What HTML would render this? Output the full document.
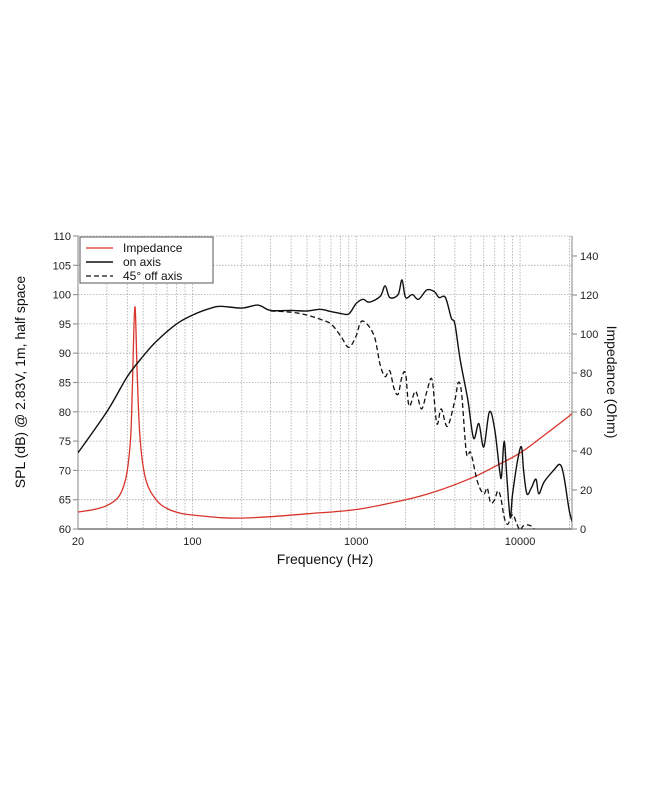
<!DOCTYPE html>
<html><head><meta charset="utf-8"><style>
body{margin:0;background:#fff;}
svg{display:block;font-family:"Liberation Sans",Arial,sans-serif;}
</style></head><body>
<svg id="s" width="650" height="794" xmlns="http://www.w3.org/2000/svg">
<g id="grid"></g>
<g id="axes" stroke="#999" stroke-width="1.2" fill="none">
<line x1="78" y1="236" x2="78" y2="529"/>
<line x1="572" y1="236" x2="572" y2="529"/>
<line x1="78" y1="529" x2="572" y2="529" stroke-width="2"/>
</g>
<g id="labels" font-size="11" fill="#222"></g>
<text x="325" y="564" font-size="14" text-anchor="middle" fill="#111">Frequency (Hz)</text>
<text transform="translate(25,382) rotate(-90)" font-size="14" text-anchor="middle" fill="#111">SPL (dB) @ 2.83V, 1m, half space</text>
<text transform="translate(607,382) rotate(90)" font-size="14" text-anchor="middle" fill="#111">Impedance (Ohm)</text>
<defs><clipPath id="c"><rect x="78" y="236" width="494" height="293"/></clipPath></defs>
<g clip-path="url(#c)" fill="none">
<path id="imp" stroke="#d9342b" stroke-width="1.3"/>
<path id="off" stroke="#111" stroke-width="1.3" stroke-dasharray="5,3"/>
<path id="on" stroke="#111" stroke-width="1.4"/>
</g>
<g>
<rect x="80" y="237" width="133" height="46" fill="#fff" stroke="#555" stroke-width="1"/>
<line x1="86" y1="248" x2="113" y2="248" stroke="#d9342b" stroke-width="1.3"/>
<line x1="86" y1="262" x2="113" y2="262" stroke="#111" stroke-width="1.4"/>
<line x1="86" y1="276" x2="113" y2="276" stroke="#111" stroke-width="1.3" stroke-dasharray="5,3"/>
<text x="123" y="252" font-size="12" fill="#111">Impedance</text>
<text x="123" y="266" font-size="12" fill="#111">on axis</text>
<text x="123" y="280" font-size="12" fill="#111">45° off axis</text>
</g>
</svg>
<script>
var NS="http://www.w3.org/2000/svg";
function X(f){return 78+(Math.log10(f)-Math.log10(20))*163.8;}
function Yd(d){return 529-(d-60)*5.86;}
function Yo(o){return 529-o*1.95;}
function el(p,t,a){var e=document.createElementNS(NS,t);for(var k in a)e.setAttribute(k,a[k]);document.getElementById(p).appendChild(e);return e;}
var freqs=[];
[10,100,1000,10000].forEach(function(d){for(var i=1;i<10;i++){var f=d*i;if(f>20&&f<=20000)freqs.push(f);}});
freqs.forEach(function(f){var x=X(f);if(x<571)el("grid","line",{x1:x,y1:236,x2:x,y2:529,stroke:"#aaa","stroke-width":0.8,"stroke-dasharray":"1.5,1.5"});});
for(var d=65;d<=110;d+=5){var y=Yd(d);el("grid","line",{x1:78,y1:y,x2:572,y2:y,stroke:"#aaa","stroke-width":0.8,"stroke-dasharray":"1.5,1.5"});}
for(var d=60;d<=110;d+=5){var y=Yd(d);el("axes","line",{x1:73,y1:y,x2:78,y2:y});var t=el("labels","text",{x:71,y:y+4,"text-anchor":"end"});t.textContent=d;}
for(var o=0;o<=140;o+=20){var y=Yo(o);el("axes","line",{x1:572,y1:y,x2:577,y2:y});var t=el("labels","text",{x:580,y:y+4});t.textContent=o;}
[[20,"20"],[100,"100"],[1000,"1000"],[10000,"10000"]].forEach(function(a){var t=el("labels","text",{x:X(a[0]),y:545,"text-anchor":"middle"});t.textContent=a[1];});
function path(pts,fy){var P=pts.map(function(p){return[X(p[0]),fy(p[1])];});var s="M"+P[0][0].toFixed(1)+","+P[0][1].toFixed(1);
for(var i=0;i<P.length-1;i++){var p0=P[i-1]||P[i],p1=P[i],p2=P[i+1],p3=P[i+2]||P[i+1];
s+="C"+(p1[0]+(p2[0]-p0[0])/6).toFixed(1)+","+(p1[1]+(p2[1]-p0[1])/6).toFixed(1)+" "+(p2[0]-(p3[0]-p1[0])/6).toFixed(1)+","+(p2[1]-(p3[1]-p1[1])/6).toFixed(1)+" "+p2[0].toFixed(1)+","+p2[1].toFixed(1);}return s;}
var on=[[20,73],[30,80],[40,86],[50,89.5],[60,92],[80,95],[100,96.5],[130,97.7],[150,98],[200,97.7],[250,98.2],[300,97.3],[400,97.3],[500,97.2],[600,97.5],[700,97.1],[800,96.8],[900,96.7],[1000,98.5],[1100,99.2],[1200,98.7],[1400,99.7],[1500,101.5],[1600,99.5],[1800,100],[1900,102.5],[2000,99.5],[2200,100],[2400,99.2],[2700,100.8],[3000,100.5],[3200,99.5],[3500,99.5],[3800,96],[4000,95],[4300,89],[4800,82],[5200,75.5],[5600,78],[6000,74],[6500,80],[7000,77],[7500,70],[7700,69],[8000,75],[8300,69],[8700,62],[9000,66],[9700,72],[10200,74],[10500,70],[11000,66],[11700,67],[12500,68.5],[13000,66],[14000,68],[16000,70],[17500,71],[18500,69],[20000,63],[21000,61]];
var off=[[300,97.2],[400,97],[500,96.5],[600,95.8],[700,95],[800,93],[900,91],[1000,93],[1050,95],[1100,95.5],[1200,94.5],[1300,92.5],[1400,88],[1500,86],[1600,87],[1700,84],[1800,83],[1900,86],[2000,86.5],[2100,81],[2300,83.5],[2500,80.5],[2700,83.5],[2900,85.5],[3100,78],[3300,80.5],[3600,77.5],[4000,82],[4200,85],[4400,83],[4700,73],[5000,73],[5500,68],[6000,66],[6300,67],[6600,64.5],[7000,65],[7300,66.5],[7600,65.5],[8000,62],[8400,60.8],[9000,62.5],[9500,61],[10000,59.8],[10400,60.5],[11000,60.7],[11700,60.5],[12500,59.5]];
var imp=[[20,8.7],[25,10],[30,12],[35,16],[38,22],[40,30],[42,48],[43,75],[44.5,114],[46,78],[48,45],[52,25],[60,15],[70,10.5],[85,8],[100,7.2],[150,5.8],[200,5.6],[300,6.3],[500,7.8],[1000,10],[2000,15],[3000,19],[5000,26],[7000,32],[10000,39],[14000,48],[20000,58],[21000,60]];
document.getElementById("on").setAttribute("d",path(on,Yd));
document.getElementById("off").setAttribute("d",path(off,Yd));
document.getElementById("imp").setAttribute("d",path(imp,Yo));
</script>
</body></html>
